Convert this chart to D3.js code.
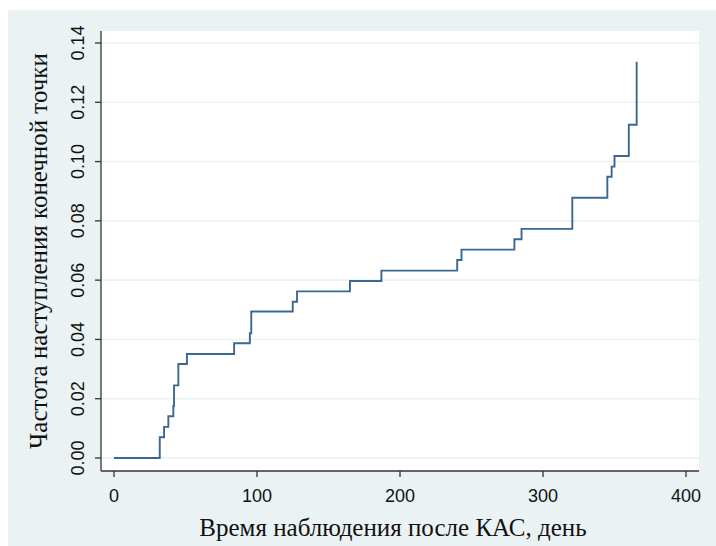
<!DOCTYPE html>
<html>
<head>
<meta charset="utf-8">
<script src="https://cdn.jsdelivr.net/npm/d3@7"></script>
<style>
  html, body { margin: 0; padding: 0; background: #fff; }
  svg { display: block; }
</style>
</head>
<body>
<svg width="716" height="546"></svg>
<script>
// Kaplan-Meier style cumulative incidence
const days = [0, 32, 35, 38, 41.5, 42, 45, 51, 84, 95, 96, 125, 128, 165, 187, 240, 243, 280, 285, 320.5, 345, 348, 350, 360, 365.5];
const incidence = [0, 0.0070, 0.0105, 0.0141, 0.0176, 0.0245, 0.0317, 0.0351, 0.0387, 0.0421, 0.0494, 0.0527, 0.0562, 0.0597, 0.0632, 0.0668, 0.0703, 0.0738, 0.0773, 0.0878, 0.0949, 0.0983, 0.1019, 0.1124, 0.1337];

const xTicks = [0, 100, 200, 300, 400];
const yTicks = [0, 0.02, 0.04, 0.06, 0.08, 0.10, 0.12, 0.14];

const xTitle = "Время наблюдения после КАС, день";
const yTitle = "Частота наступления конечной точки";

const width = 716, height = 546;
const plot = { left: 101, right: 699, top: 31, bottom: 471 };

const x = d3.scaleLinear().domain([0, 400]).range([114, 686]);
const y = d3.scaleLinear().domain([0, 0.14]).range([458, 43]);

const svg = d3.select("svg");

// graph region
svg.append("rect")
  .attr("x", 8).attr("y", 10)
  .attr("width", width - 8).attr("height", height - 10)
  .attr("fill", "#eaf2f3");

// plot region
svg.append("rect")
  .attr("x", plot.left).attr("y", plot.top)
  .attr("width", plot.right - plot.left).attr("height", plot.bottom - plot.top)
  .attr("fill", "#fff");

// gridlines
svg.append("g")
  .selectAll("line")
  .data(yTicks)
  .join("line")
  .attr("x1", plot.left).attr("x2", plot.right)
  .attr("y1", d => y(d)).attr("y2", d => y(d))
  .attr("stroke", "#eaf2f3")
  .attr("stroke-width", 1.6);

// step line
const line = d3.line()
  .x(d => x(d[0]))
  .y(d => y(d[1]))
  .curve(d3.curveStepAfter);

svg.append("path")
  .datum(days.map((d, i) => [d, incidence[i]]))
  .attr("d", line)
  .attr("fill", "none")
  .attr("stroke", "#3a6891")
  .attr("stroke-width", 1.9);

// axes
const axisColor = "#333";

const yAxis = svg.append("g");
yAxis.append("line")
  .attr("x1", plot.left).attr("x2", plot.left)
  .attr("y1", plot.top).attr("y2", plot.bottom)
  .attr("stroke", axisColor).attr("stroke-width", 1.3);
yAxis.selectAll(".tick")
  .data(yTicks)
  .join("line")
  .attr("x1", plot.left - 6).attr("x2", plot.left)
  .attr("y1", d => y(d)).attr("y2", d => y(d))
  .attr("stroke", axisColor).attr("stroke-width", 1.3);
yAxis.selectAll("text")
  .data(yTicks)
  .join("text")
  .attr("transform", d => `translate(84,${y(d)}) rotate(-90)`)
  .attr("text-anchor", "middle")
  .attr("font-family", "Liberation Sans, Arial, sans-serif")
  .attr("font-size", 18)
  .attr("fill", "#111")
  .text(d => d3.format(".2f")(d));

const xAxis = svg.append("g");
xAxis.append("line")
  .attr("x1", plot.left).attr("x2", plot.right)
  .attr("y1", plot.bottom).attr("y2", plot.bottom)
  .attr("stroke", axisColor).attr("stroke-width", 1.3);
xAxis.selectAll(".tick")
  .data(xTicks)
  .join("line")
  .attr("x1", d => x(d)).attr("x2", d => x(d))
  .attr("y1", plot.bottom).attr("y2", plot.bottom + 6)
  .attr("stroke", axisColor).attr("stroke-width", 1.3);
xAxis.selectAll("text")
  .data(xTicks)
  .join("text")
  .attr("x", d => x(d))
  .attr("y", 502)
  .attr("text-anchor", "middle")
  .attr("font-family", "Liberation Sans, Arial, sans-serif")
  .attr("font-size", 18)
  .attr("fill", "#111")
  .text(d => d);

// titles
svg.append("text")
  .attr("x", 393).attr("y", 536)
  .attr("text-anchor", "middle")
  .attr("font-family", "Liberation Serif, Times New Roman, serif")
  .attr("font-size", 25)
  .attr("fill", "#111")
  .text(xTitle);

svg.append("text")
  .attr("transform", `translate(47,${(plot.top + plot.bottom) / 2}) rotate(-90)`)
  .attr("text-anchor", "middle")
  .attr("font-family", "Liberation Serif, Times New Roman, serif")
  .attr("font-size", 25)
  .attr("fill", "#111")
  .text(yTitle);
</script>
</body>
</html>
